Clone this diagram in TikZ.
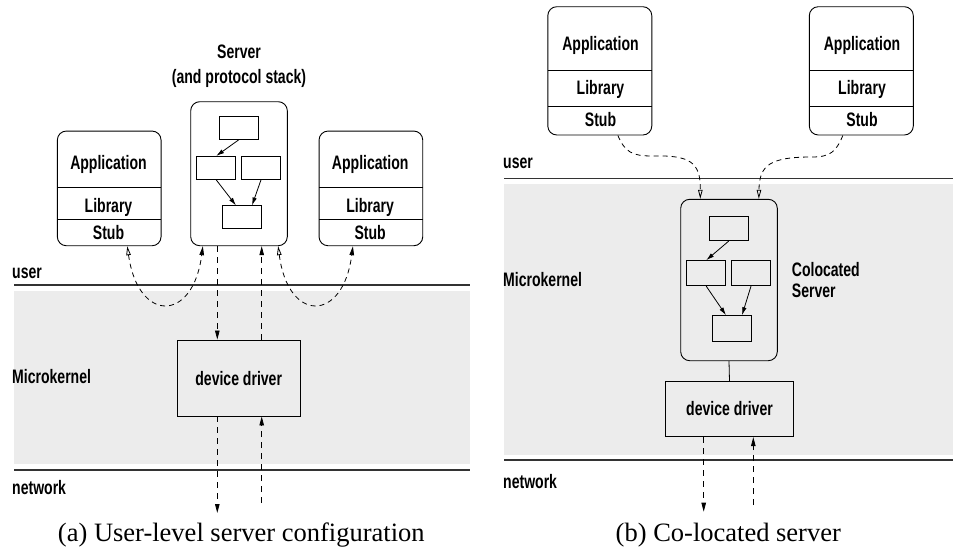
\documentclass[tikz,border=0pt]{standalone}
\usepackage{fontspec}
\newfontfamily\labfont[FakeStretch=0.72]{Liberation Sans}
\newfontfamily\capfont{Liberation Serif}
\usetikzlibrary{arrows.meta,calc}
\tikzset{
  fhead/.tip={Triangle[length=9pt,width=4.5pt]},
  ohead/.tip={Triangle[open,length=9pt,width=4.5pt]}
}
\begin{document}
\begin{tikzpicture}[x=1pt,y=-1pt,
  lab/.style={font=\labfont\bfseries\fontsize{19.5}{22}\selectfont, inner sep=0pt},
  blab/.style={lab, anchor=base},
  capt/.style={font=\capfont\fontsize{26.5}{30}\selectfont, inner sep=0pt, anchor=base},
  box/.style={draw, line width=0.9pt, inner sep=0pt},
  rbox/.style={box, rounded corners=9pt},
  ibox/.style={box, minimum width=39pt, minimum height=23pt},
  band/.style={fill=gray!15, draw=none},
  layer/.style={line width=1.2pt, draw=black!80},
  sarr/.style={-{Latex[length=8pt,width=4.5pt]}, line width=0.8pt},
  darr/.style={dash pattern=on 6pt off 5pt, line width=0.8pt, -{fhead}},
  carr/.style={dash pattern=on 5pt off 4pt, line width=0.8pt},
  divl/.style={line width=0.9pt}
]
\useasboundingbox (0,0) rectangle (953,549);

% ================= (a) =================
\fill[band] (14,290.7) rectangle (470,464);
\draw[layer] (14,285) -- (470,285);
\draw[layer] (14,470) -- (470,470);
\node[lab, anchor=west] (userA) at (12,273) {user};
\node[lab, anchor=west] (mkA) at (12,377) {Microkernel};
\node[lab, anchor=west] (netA) at (12,488) {network};

% server
\node[lab] (srvt1) at (239,51.5) {Server};
\node[lab] (srvt2) at (239,78) {(and protocol stack)};
\node[rbox, minimum width=96.6pt, minimum height=144pt] (srv) at (239,173.7) {};
\node[ibox] (a1) at (238.7,127.9) {};
\node[ibox] (a2) at (216.2,167.9) {};
\node[ibox] (a3) at (261,167.9) {};
\node[ibox] (a4) at (242,217.4) {};
\draw[sarr] (a1.south) -- (a2.north);
\draw[sarr] (a2.south) -- ($(a4.north)+(-6,0)$);
\draw[sarr] (a3.south) -- ($(a4.north)+(10,0)$);

% left application
\node[rbox, minimum width=103.7pt, minimum height=114.7pt] (appL) at (109.2,188.4) {};
\draw[divl] (57.3,187.7) -- (161,187.7);
\draw[divl] (57.3,219.5) -- (161,219.5);
\node[blab] (appLa) at (108.5,169) {Application};
\node[blab] (appLl) at (108.5,212.7) {Library};
\node[blab] (appLs) at (108.5,239.3) {Stub};

% right application
\node[rbox, minimum width=103.7pt, minimum height=114.7pt] (appR) at (370.9,188.4) {};
\draw[divl] (319,187.7) -- (422.7,187.7);
\draw[divl] (319,219.5) -- (422.7,219.5);
\node[blab] (appRa) at (370.2,169) {Application};
\node[blab] (appRl) at (370.2,212.7) {Library};
\node[blab] (appRs) at (370.2,239.3) {Stub};

% device driver
\node[box, minimum width=122.7pt, minimum height=76pt] (drvA) at (238.7,378) {};
\node[lab] (drvAt) at (238.7,379) {device driver};

% curves
\draw[carr, {ohead}-{fhead}] ($(appL.south west)+(70.4,0)$) .. controls (138,323) and (193,323) .. ($(srv.south west)+(12.6,0)$);
\draw[carr, {ohead}-{fhead}] ($(srv.south east)+(-9.6,0)$) .. controls (288,323) and (343,323) .. ($(appR.south west)+(34.3,0)$);

% vertical dashed arrows
\coordinate (pxa) at (217.3,0);
\coordinate (pxb) at (261.7,0);
\coordinate (enda) at (217.3,513);
\coordinate (startb) at (261.7,503);
\draw[darr] (srv.south -| pxa) -- (drvA.north -| pxa);
\draw[darr] (drvA.north -| pxb) -- (srv.south -| pxb);
\draw[darr] (drvA.south -| pxa) -- (enda);
\draw[darr] (startb) -- (drvA.south -| pxb);

\node[capt] (capA) at (241.3,541.7) {(a) User-level server configuration};

% ================= (b) =================
\fill[band] (504,184.3) rectangle (953,455);
\draw[layer] (504,178.3) -- (953,178.3);
\draw[layer] (504,460) -- (953,460);
\node[lab, anchor=west] (userB) at (503,163.3) {user};
\node[lab, anchor=west] (mkB) at (503,280) {Microkernel};
\node[lab, anchor=west] (netB) at (503,481.7) {network};

% applications
\node[rbox, minimum width=104pt, minimum height=128.3pt] (appBL) at (599.8,70.85) {};
\draw[divl] (547.8,70.7) -- (651.8,70.7);
\draw[divl] (547.8,106) -- (651.8,106);
\node[blab] (appBLa) at (600.5,50) {Application};
\node[blab] (appBLl) at (600.5,94.3) {Library};
\node[blab] (appBLs) at (600.5,126) {Stub};

\node[rbox, minimum width=104pt, minimum height=128.3pt] (appBR) at (861.3,70.85) {};
\draw[divl] (809.3,70.7) -- (913.3,70.7);
\draw[divl] (809.3,106) -- (913.3,106);
\node[blab] (appBRa) at (862,50) {Application};
\node[blab] (appBRl) at (862,94.3) {Library};
\node[blab] (appBRs) at (862,126) {Stub};

% colocated server
\node[rbox, minimum width=96.6pt, minimum height=161.4pt] (csrv) at (729,280) {};
\node[ibox, minimum height=24.7pt] (b1) at (728.7,228.3) {};
\node[ibox, minimum height=25pt] (b2) at (706.2,273.2) {};
\node[ibox, minimum height=25pt] (b3) at (751,273.2) {};
\node[ibox, minimum height=25.3pt] (b4) at (732,328.3) {};
\draw[sarr] (b1.south) -- (b2.north);
\draw[sarr] (b2.south) -- ($(b4.north)+(-6,0)$);
\draw[sarr] (b3.south) -- ($(b4.north)+(10,0)$);
\node[lab, anchor=west] (colt1) at (791.7,269.3) {Colocated};
\node[lab, anchor=west] (colt2) at (791.7,290.7) {Server};

% driver
\node[box, minimum width=127.6pt, minimum height=55pt] (drvB) at (729.5,409.2) {};
\node[lab] (drvBt) at (729.5,409) {device driver};
\draw[line width=0.8pt] (csrv.south) -- (drvB.north);

% curves
\draw[carr, -{ohead}] ($(appBL.south west)+(70.5,0)$) .. controls (625,152) and (632,156) .. (652,156) .. controls (690,155) and (700.7,162) .. ($(csrv.north west)+(20,0)$);
\draw[carr, -{ohead}] ($(appBR.south west)+(34,0)$) .. controls (836,152) and (830,157) .. (812,157) .. controls (770,157) and (759.3,165) .. ($(csrv.north west)+(78.6,0)$);

% vertical dashed
\coordinate (qxa) at (703.7,0);
\coordinate (qxb) at (753.3,0);
\coordinate (endc) at (703.7,511.7);
\coordinate (startd) at (753.3,505);
\draw[darr] (drvB.south -| qxa) -- (endc);
\draw[darr] (startd) -- (drvB.south -| qxb);

\node[capt] (capB) at (728.3,541.7) {(b) Co-located server};
\end{tikzpicture}
\end{document}
